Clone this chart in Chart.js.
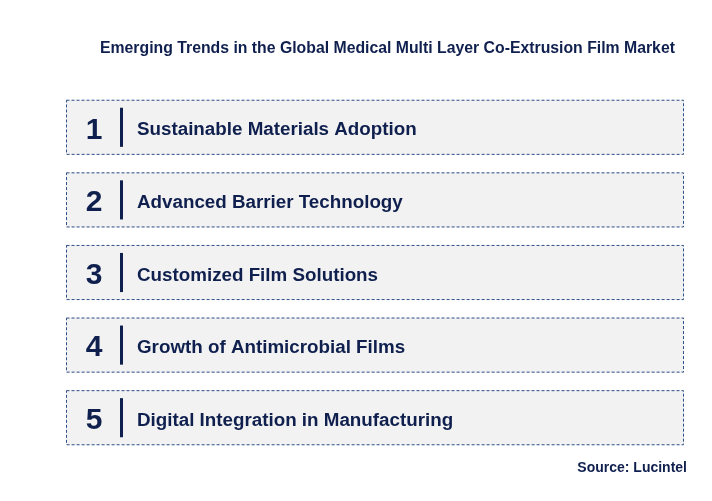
<!DOCTYPE html>
<html><head><meta charset="utf-8">
<script src="https://cdn.jsdelivr.net/npm/chart.js@4/dist/chart.umd.min.js"></script>
<style>html,body{margin:0;padding:0;background:#fff}#w{width:712px;height:501px}</style>
</head><body><div id="w"><canvas id="c"></canvas></div>
<script>
const titleText = "Emerging Trends in the Global Medical Multi Layer Co-Extrusion Film Market";
const sourceText = "Source: Lucintel";
const numbers = ["1","2","3","4","5"];
const trends = ["Sustainable Materials Adoption","Advanced Barrier Technology","Customized Film Solutions","Growth of Antimicrobial Films","Digital Integration in Manufacturing"];
const spans = [[0,1],[0,1],[0,1],[0,1],[0,1]];
const NAVY = "#0f1f4e";
const deco = {
  id:'deco',
  afterDatasetsDraw(chart){
    const ctx = chart.ctx;
    const meta = chart.getDatasetMeta(0);
    ctx.save();
    ctx.font = "bold 15.8px 'Liberation Sans', Arial, sans-serif";
    ctx.fillStyle = NAVY; ctx.textBaseline = 'middle'; ctx.textAlign = 'left';
    ctx.fillText(titleText, 100, 49);
    ctx.textAlign = 'right';
    ctx.font = "bold 14px 'Liberation Sans', Arial, sans-serif";
    ctx.fillText(sourceText, 687, 468);
    meta.data.forEach((bar,i)=>{
      const top = bar.y - bar.height/2, bot = bar.y + bar.height/2;
      const l = bar.base, r = bar.x;
      ctx.setLineDash([3,2]); ctx.lineWidth = 1; ctx.strokeStyle = "#2f4f8a";
      ctx.strokeRect(l+0.5, top+0.5, r-l-1, bot-top-1);
      ctx.setLineDash([]);
      ctx.fillStyle = NAVY;
      ctx.fillRect(l+54, top+8, 3, bot-top-16);
      ctx.textAlign = 'center';
      ctx.font = "bold 30px 'Liberation Sans', Arial, sans-serif";
      ctx.fillText(numbers[i], l+28, bar.y+3);
      ctx.textAlign = 'left';
      ctx.font = "bold 18.8px 'Liberation Sans', Arial, sans-serif";
      ctx.fillText(trends[i], l+71, bar.y+3);
    });
    ctx.restore();
  }
};
new Chart(document.getElementById('c'), {
  type:'bar',
  data:{labels:trends, datasets:[{data:spans, backgroundColor:'#f2f2f2', borderWidth:0, barPercentage:0.759, categoryPercentage:1}]},
  options:{
    indexAxis:'y', responsive:true, maintainAspectRatio:false, animation:false,
    layout:{padding:{left:66,right:28,top:91,bottom:47}},
    plugins:{legend:{display:false},tooltip:{enabled:false}},
    scales:{x:{display:false,min:0,max:1},y:{display:false}}
  },
  plugins:[deco]
});
</script></body></html>
